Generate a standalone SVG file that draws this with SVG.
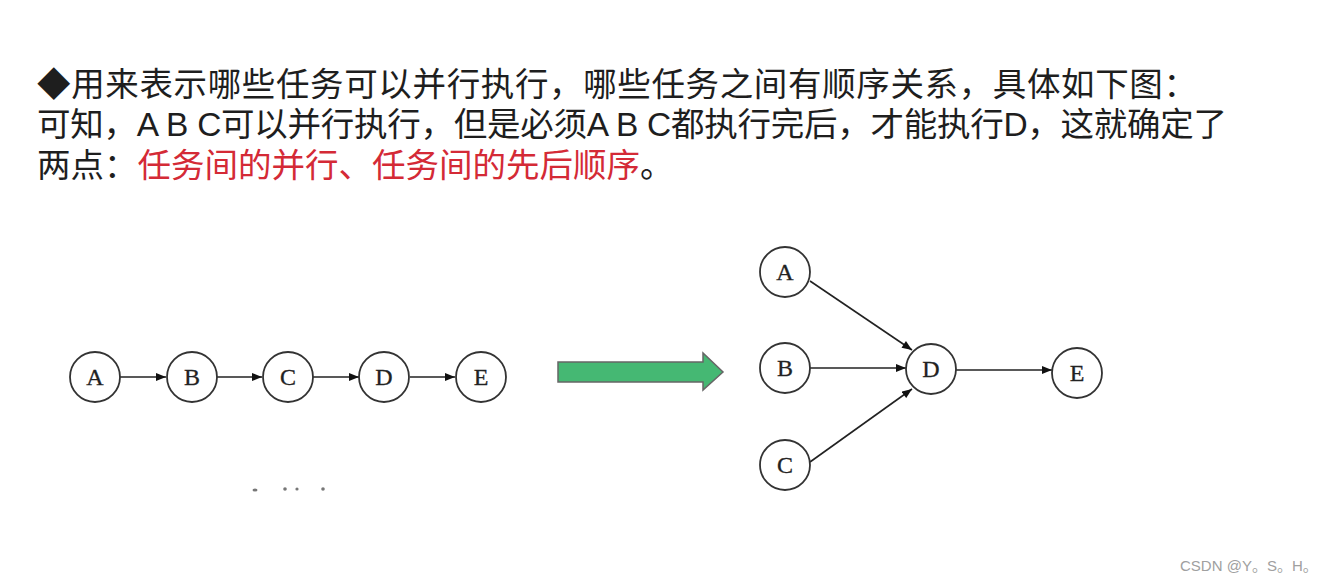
<svg xmlns="http://www.w3.org/2000/svg" width="1334" height="582" viewBox="0 0 1334 582">
<defs>
<marker id="ah" viewBox="0 0 10 8" refX="10" refY="4" markerWidth="11" markerHeight="8" markerUnits="userSpaceOnUse" orient="auto">
<path d="M0,0 L10,4 L0,8 z" fill="#111"/>
</marker>
<style>
.t{font-family:"Liberation Sans","Noto Sans CJK SC",sans-serif;font-size:33.5px;fill:#1e1e1e}
.r{fill:#d42a36}
.n circle{fill:#fff;stroke:#333;stroke-width:1.8}
.n text{font-family:"Liberation Serif",serif;font-size:24px;fill:#222;text-anchor:middle;stroke:#222;stroke-width:0.3}
.c line{stroke:#222;stroke-width:1.6;marker-end:url(#ah)}
</style>
</defs>
<rect width="1334" height="582" fill="#fff"/>
<text id="intro" class="t"><tspan x="37" y="96" textLength="1160" lengthAdjust="spacing">◆用来表示哪些任务可以并行执行，哪些任务之间有顺序关系，具体如下图：</tspan><tspan x="37" y="136" textLength="1190" lengthAdjust="spacing">可知，A B C可以并行执行，但是必须A B C都执行完后，才能执行D，这就确定了</tspan><tspan x="37" y="177">两点：</tspan><tspan class="r">任务间的并行、任务间的先后顺序</tspan><tspan>。</tspan></text>

<g id="connectors-left" class="c">
<line x1="120" y1="377" x2="166" y2="377"/>
<line x1="217" y1="377" x2="262" y2="377"/>
<line x1="313" y1="377" x2="359" y2="377"/>
<line x1="410" y1="377" x2="455" y2="377"/>
</g>
<g id="L-A" class="n"><circle cx="95" cy="377" r="25"/><text x="95" y="385">A</text></g>
<g id="L-B" class="n"><circle cx="192" cy="377" r="25"/><text x="192" y="385">B</text></g>
<g id="L-C" class="n"><circle cx="288" cy="377" r="25"/><text x="288" y="385">C</text></g>
<g id="L-D" class="n"><circle cx="384" cy="377" r="25"/><text x="384" y="385">D</text></g>
<g id="L-E" class="n"><circle cx="481" cy="377" r="25"/><text x="481" y="385">E</text></g>

<g id="big-arrow">
<path d="M558,362 L703,362 L703,353 L723,372 L703,390 L703,382 L558,382 z" fill="#45b873" stroke="#666" stroke-width="1.5"/>
</g>

<g id="connectors-right" class="c">
<line x1="810" y1="281" x2="912" y2="350"/>
<line x1="810" y1="368" x2="906" y2="368"/>
<line x1="810" y1="462" x2="912" y2="389"/>
<line x1="956" y1="370" x2="1052" y2="370"/>
</g>
<g id="R-A" class="n"><circle cx="785" cy="272" r="25"/><text x="785" y="280">A</text></g>
<g id="R-B" class="n"><circle cx="785" cy="368" r="25"/><text x="785" y="376">B</text></g>
<g id="R-C" class="n"><circle cx="785" cy="465" r="25"/><text x="785" y="473">C</text></g>
<g id="R-D" class="n"><circle cx="931" cy="369" r="25"/><text x="931" y="377">D</text></g>
<g id="R-E" class="n"><circle cx="1077" cy="373" r="25"/><text x="1077" y="381">E</text></g>

<g id="dots" fill="#777">
<ellipse cx="255" cy="490" rx="2.5" ry="1.5"/>
<circle cx="285" cy="489" r="1.8"/>
<circle cx="297" cy="489" r="1.6"/>
<circle cx="323" cy="489" r="1.8"/>
</g>

<text x="1180" y="571" font-family="Liberation Sans, Noto Sans CJK SC, sans-serif" font-size="15" fill="#a0a0a0">CSDN @Y。S。H。</text>
</svg>
